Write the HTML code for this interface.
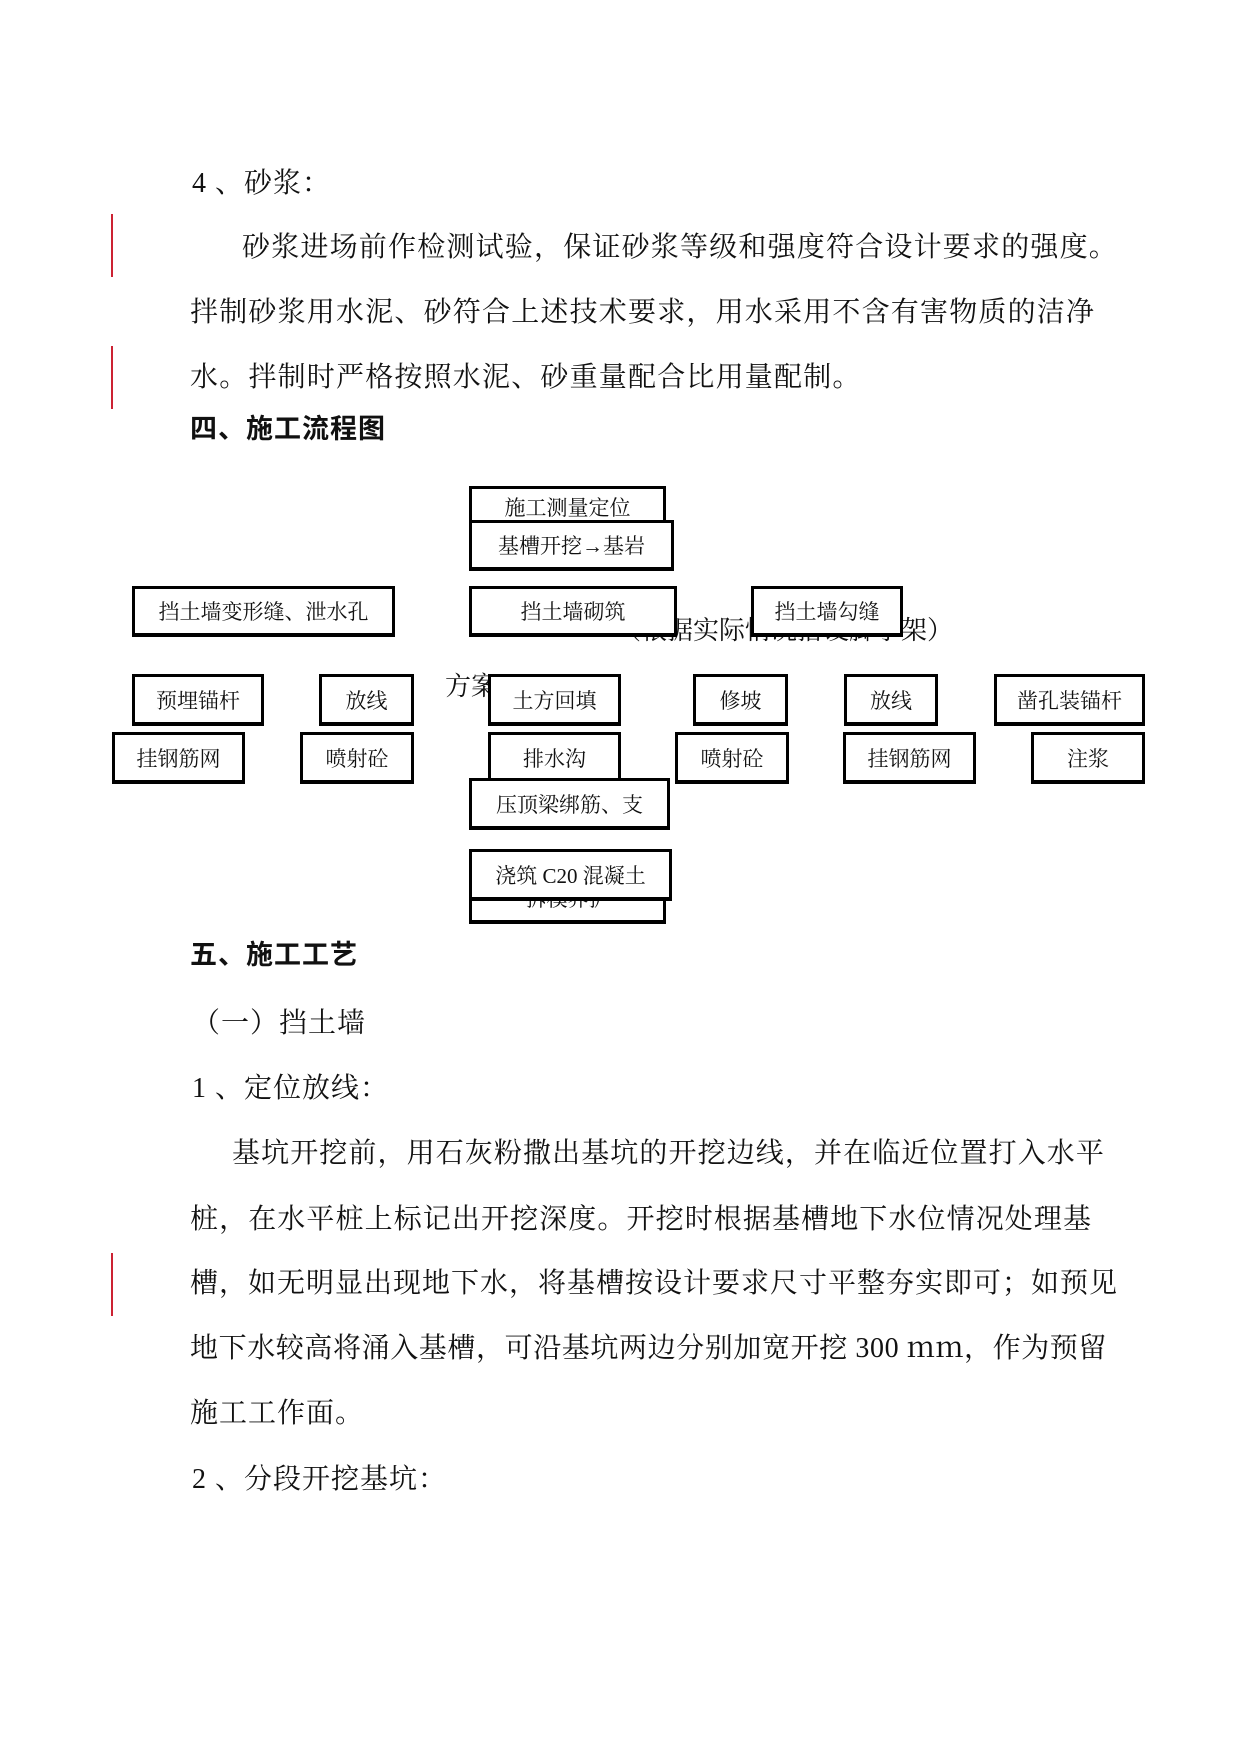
<!DOCTYPE html>
<html><head><meta charset="utf-8"><style>
body{margin:0;background:#fff;}
#p{position:relative;width:1240px;height:1753px;overflow:hidden;background:#fff;font-family:"Liberation Serif","Noto Serif CJK SC",serif;color:#111;}
.t{position:absolute;font-size:28px;line-height:34px;white-space:nowrap;}
.b{font-family:"Liberation Sans","Noto Sans CJK SC",sans-serif;font-weight:bold;font-size:27px;}
.bx{position:absolute;box-sizing:border-box;border:3px solid #000;border-bottom-width:4px;background:#fff;font-size:21px;display:flex;align-items:center;justify-content:center;white-space:nowrap;overflow:hidden;}
.r{position:absolute;left:111px;width:2px;background:#c23;}
</style></head><body><div id="p">
<div class="r" style="top:214px;height:63px"></div>
<div class="r" style="top:346px;height:63px"></div>
<div class="r" style="top:1253px;height:63px"></div>

<div class="t" style="left:192px;top:167px;letter-spacing:1px">4 、砂浆：</div>
<div class="t" style="left:242px;top:231px;letter-spacing:1.2px">砂浆进场前作检测试验，保证砂浆等级和强度符合设计要求的强度。</div>
<div class="t" style="left:190px;top:296px;letter-spacing:1.2px">拌制砂浆用水泥、砂符合上述技术要求，用水采用不含有害物质的洁净</div>
<div class="t" style="left:190px;top:361px;letter-spacing:1.2px">水。拌制时严格按照水泥、砂重量配合比用量配制。</div>
<div class="t b" style="left:190px;top:412px;letter-spacing:1px">四、施工流程图</div>

<div class="t" style="left:615px;top:614px;font-size:26px">（根据实际情况搭设脚手架）</div>
<div class="t" style="left:445px;top:670px;font-size:26px">方案</div>

<div class="bx" style="left:469px;top:486px;width:197px;height:40px;align-items:flex-end">施工测量定位</div>
<div class="bx" style="left:469px;top:520px;width:205px;height:51px">基槽开挖→基岩</div>
<div class="bx" style="left:132px;top:586px;width:263px;height:51px">挡土墙变形缝、泄水孔</div>
<div class="bx" style="left:469px;top:586px;width:208px;height:51px">挡土墙砌筑</div>
<div class="bx" style="left:751px;top:586px;width:152px;height:51px">挡土墙勾缝</div>

<div class="bx" style="left:132px;top:674px;width:132px;height:52px">预埋锚杆</div>
<div class="bx" style="left:319px;top:674px;width:95px;height:52px">放线</div>
<div class="bx" style="left:488px;top:674px;width:133px;height:52px">土方回填</div>
<div class="bx" style="left:693px;top:674px;width:95px;height:52px">修坡</div>
<div class="bx" style="left:844px;top:674px;width:94px;height:52px">放线</div>
<div class="bx" style="left:994px;top:674px;width:151px;height:52px">凿孔装锚杆</div>

<div class="bx" style="left:112px;top:732px;width:133px;height:52px">挂钢筋网</div>
<div class="bx" style="left:300px;top:732px;width:114px;height:52px">喷射砼</div>
<div class="bx" style="left:488px;top:732px;width:133px;height:52px">排水沟</div>
<div class="bx" style="left:675px;top:732px;width:114px;height:52px">喷射砼</div>
<div class="bx" style="left:843px;top:732px;width:133px;height:52px">挂钢筋网</div>
<div class="bx" style="left:1031px;top:732px;width:114px;height:52px">注浆</div>

<div class="bx" style="left:469px;top:778px;width:201px;height:52px">压顶梁绑筋、支</div>
<div class="bx" style="left:469px;top:880px;width:197px;height:44px;align-items:flex-start">拆模养护</div>
<div class="bx" style="left:469px;top:849px;width:203px;height:52px">浇筑 C20 混凝土</div>

<div class="t b" style="left:190px;top:938px;letter-spacing:1px">五、施工工艺</div>
<div class="t" style="left:192px;top:1007px;letter-spacing:1px">（一）挡土墙</div>
<div class="t" style="left:192px;top:1072px;letter-spacing:1px">1 、定位放线：</div>
<div class="t" style="left:232px;top:1137px;letter-spacing:1.1px">基坑开挖前，用石灰粉撒出基坑的开挖边线，并在临近位置打入水平</div>
<div class="t" style="left:190px;top:1203px;letter-spacing:1.1px">桩，在水平桩上标记出开挖深度。开挖时根据基槽地下水位情况处理基</div>
<div class="t" style="left:190px;top:1267px;letter-spacing:1px">槽，如无明显出现地下水，将基槽按设计要求尺寸平整夯实即可；如预见</div>
<div class="t" style="left:190px;top:1332px;letter-spacing:0.6px">地下水较高将涌入基槽，可沿基坑两边分别加宽开挖 300 ｍｍ，作为预留</div>
<div class="t" style="left:190px;top:1397px;letter-spacing:1px">施工工作面。</div>
<div class="t" style="left:192px;top:1463px;letter-spacing:1px">2 、分段开挖基坑：</div>
</div></body></html>
